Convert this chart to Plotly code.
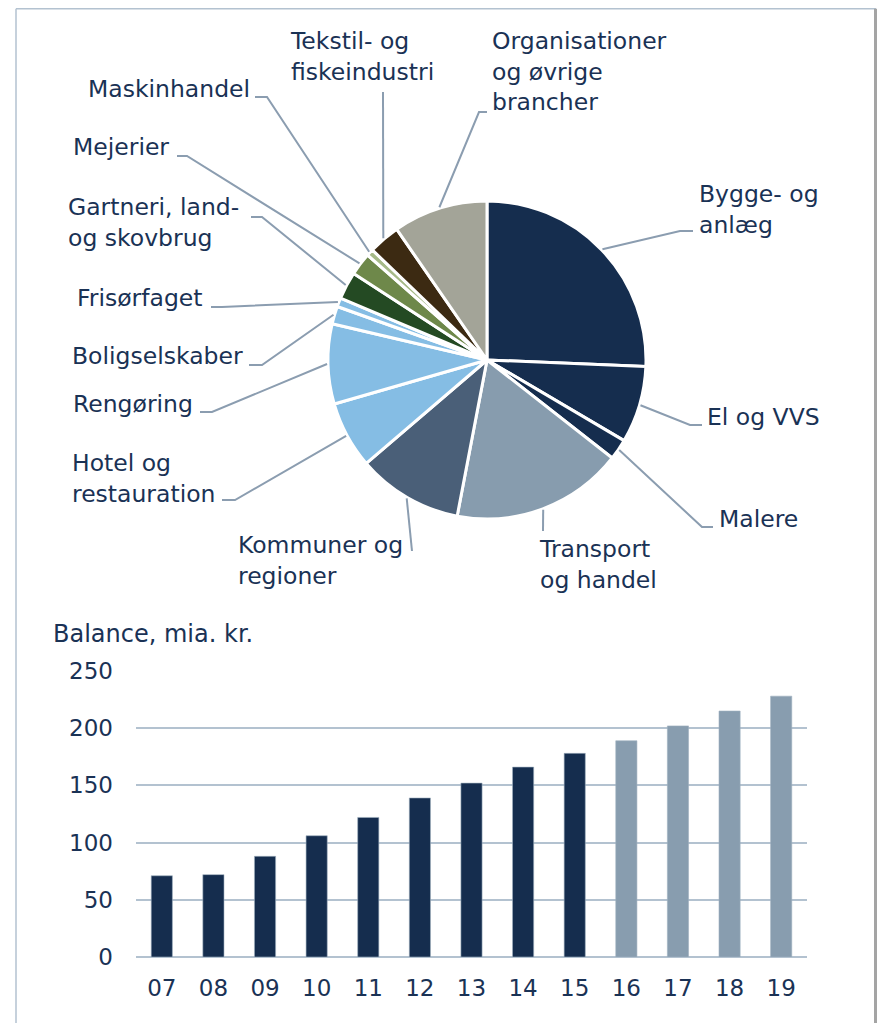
import math
import plotly.graph_objects as go

# ---------------- data ----------------
sectors = ["Bygge- og anlæg", "El og VVS", "Malere", "Transport og handel",
           "Kommuner og regioner", "Hotel og restauration", "Rengøring",
           "Boligselskaber", "Frisørfaget", "Gartneri, land- og skovbrug",
           "Mejerier", "Maskinhandel", "Tekstil- og fiskeindustri",
           "Organisationer og øvrige brancher"]
shares = [25.6, 7.8, 2.1, 17.4, 10.7, 6.8, 8.1, 1.8, 0.9, 2.8, 2.3, 0.7, 3.2, 9.6]
sector_colors = ["#152d4e", "#152d4e", "#152d4e", "#879cae", "#4a5f78", "#85bde4",
                 "#85bde4", "#85bde4", "#85bde4", "#244a23", "#6e884a", "#a6ba88",
                 "#3c2a12", "#a3a498"]

years = ["07", "08", "09", "10", "11", "12", "13", "14", "15", "16", "17", "18", "19"]
balance = [71, 72, 88, 106, 122, 139, 152, 166, 178, 189, 202, 215, 228]
is_forecast = [False] * 9 + [True] * 4
y_ticks = [0, 50, 100, 150, 200, 250]

# ---------------- layout helpers ----------------
OFF = 8                    # page body margin
W, H = 885 - 2 * OFF, 1031 - 2 * OFF
TXT = "#1a3255"
LINE = "#8b9db0"
FONT = "DejaVu Sans"


def px(x):
    return (x - OFF) / W


def py(y):
    return 1 - (y - OFF) / H


# pie geometry (pixels, page coordinates)
CX, CY, R = 487, 360, 159

# label placement: text, left x, center y, leader waypoints (from elbow to end)
label_layout = {
    "Bygge- og anlæg": ("Bygge- og<br>anlæg", 697, 209, [(680, 231), (693, 231)]),
    "El og VVS": ("El og VVS", 705, 417, [(690, 425), (702, 425)]),
    "Malere": ("Malere", 717, 519, [(702, 527), (713, 527)]),
    "Transport og handel": ("Transport<br>og handel", 537, 564, [(543, 531)]),
    "Kommuner og regioner": ("Kommuner og<br>regioner", 236, 560, [(412, 551)]),
    "Hotel og restauration": ("Hotel og<br>restauration", 70, 479, [(235, 500), (222, 500)]),
    "Rengøring": ("Rengøring", 71, 404, [(212, 412), (200, 412)]),
    "Boligselskaber": ("Boligselskaber", 70, 356, [(262, 365), (249, 365)]),
    "Frisørfaget": ("Frisørfaget", 75, 298, [(222, 307), (211, 307)]),
    "Gartneri, land- og skovbrug": ("Gartneri, land-<br>og skovbrug", 66, 223, [(262, 217), (251, 217)]),
    "Mejerier": ("Mejerier", 71, 147, [(187, 156), (177, 156)]),
    "Maskinhandel": ("Maskinhandel", 86, 89, [(267, 97), (255, 97)]),
    "Tekstil- og fiskeindustri": ("Tekstil- og<br>fiskeindustri", 288, 57, [(383, 92)]),
    "Organisationer og øvrige brancher": ("Organisationer<br>og øvrige<br>brancher", 490, 71,
                                          [(479, 112), (487, 112)]),
}

fig = go.Figure()

# ---------------- pie ----------------
fig.add_trace(go.Pie(
    labels=sectors, values=shares, sort=False, direction="clockwise", rotation=0,
    marker=dict(colors=sector_colors, line=dict(color="white", width=3)),
    textinfo="none", hoverinfo="label+percent", showlegend=False,
    domain=dict(x=[px(CX - R), px(CX + R)], y=[py(CY + R), py(CY - R)]),
))

shapes = []
annotations = []
total = sum(shares)
cum = 0.0
for name, v in zip(sectors, shares):
    mid = 2 * math.pi * (cum + v / 2) / total
    cum += v
    ex = CX + (R + 1) * math.sin(mid)
    ey = CY - (R + 1) * math.cos(mid)
    text, tx, ty, pts = label_layout[name]
    path = f"M {px(ex)},{py(ey)}" + "".join(f" L {px(a)},{py(b)}" for a, b in pts)
    shapes.append(dict(type="path", xref="paper", yref="paper", path=path,
                       line=dict(color=LINE, width=2)))
    annotations.append(dict(x=px(tx), y=py(ty), xref="paper", yref="paper", text=text,
                            showarrow=False, xanchor="left", yanchor="middle", align="left",
                            font=dict(family=FONT, size=23.5, color=TXT)))

# ---------------- bars ----------------
fig.add_trace(go.Bar(
    x=years, y=balance,
    marker=dict(color=["#889daf" if f else "#152d4e" for f in is_forecast],
                line=dict(color="#9fb0c0", width=0.6)),
    width=0.41, showlegend=False, xaxis="x", yaxis="y",
))

annotations.append(dict(x=px(51), y=py(634), xref="paper", yref="paper",
                        text="Balance, mia. kr.", showarrow=False, xanchor="left",
                        yanchor="middle", font=dict(family=FONT, size=24, color=TXT)))

# frame
shapes += [
    dict(type="line", xref="paper", yref="paper", x0=px(16), x1=px(16), y0=py(8.8), y1=py(1040),
         line=dict(color="#b3c2d0", width=1.5)),
    dict(type="line", xref="paper", yref="paper", x0=px(16), x1=px(876), y0=py(8.8), y1=py(8.8),
         line=dict(color="#b3c2d0", width=1.5)),
    dict(type="line", xref="paper", yref="paper", x0=px(875.5), x1=px(875.5), y0=py(8.8), y1=py(1040),
         line=dict(color="#a4a4a4", width=3)),
]

fig.update_layout(
    template="none",
    width=W, height=H, margin=dict(l=0, r=0, t=0, b=0, pad=0), autosize=False,
    paper_bgcolor="white", plot_bgcolor="white",
    font=dict(family=FONT, size=23, color=TXT),
    shapes=shapes, annotations=annotations,
    xaxis=dict(domain=[px(136), px(807)], type="category", range=[-0.5, 12.5],
               showgrid=False, showline=False, zeroline=False, ticks="",
               automargin=False,
               tickfont=dict(family=FONT, size=23, color=TXT), ticklabelstandoff=15,
               fixedrange=True),
    yaxis=dict(domain=[py(957), py(671)], range=[0, 250], tickvals=y_ticks,
               showgrid=True, gridcolor="#b3c2d0", gridwidth=1.5,
               zeroline=True, zerolinecolor="#b3c2d0", zerolinewidth=1.5,
               showline=False, ticks="", ticklabelstandoff=22, automargin=False,
               tickfont=dict(family=FONT, size=23, color=TXT), fixedrange=True),
)

fig.write_html("out.html")
